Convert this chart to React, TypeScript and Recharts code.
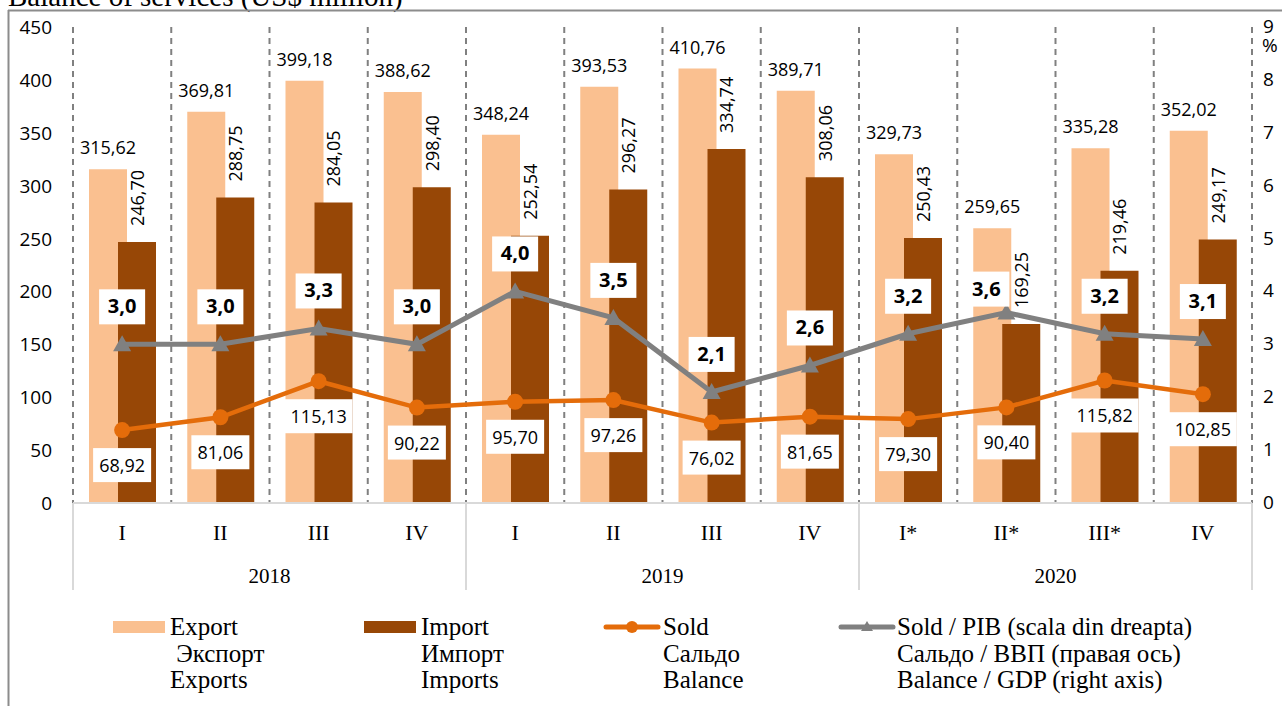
import React from "react";
import {
  ComposedChart,
  Bar,
  Line,
  XAxis,
  YAxis,
  CartesianGrid,
  LabelList,
} from "recharts";

const quarters = ["I", "II", "III", "IV", "I", "II", "III", "IV", "I*", "II*", "III*", "IV"];
const years = ["2018", "2018", "2018", "2018", "2019", "2019", "2019", "2019", "2020", "2020", "2020", "2020"];
const exportsMln = [315.62, 369.81, 399.18, 388.62, 348.24, 393.53, 410.76, 389.71, 329.73, 259.65, 335.28, 352.02];
const importsMln = [246.7, 288.75, 284.05, 298.4, 252.54, 296.27, 334.74, 308.06, 250.43, 169.25, 219.46, 249.17];
const balanceMln = [68.92, 81.06, 115.13, 90.22, 95.7, 97.26, 76.02, 81.65, 79.3, 90.4, 115.82, 102.85];
const balanceGdp = [3.0, 3.0, 3.3, 3.0, 4.0, 3.5, 2.1, 2.6, 3.2, 3.6, 3.2, 3.1];

const leftTicks = [0, 50, 100, 150, 200, 250, 300, 350, 400, 450];
const rightTicks = [0, 1, 2, 3, 4, 5, 6, 7, 8, 9];

const legendItems = [
  { key: "export", lines: ["Export", " Экспорт", "Exports"] },
  { key: "import", lines: ["Import", "Импорт", "Imports"] },
  { key: "balance", lines: ["Sold", "Сальдо", "Balance"] },
  {
    key: "gdp",
    lines: ["Sold / PIB (scala din dreapta)", "Сальдо / ВВП (правая ось)", "Balance / GDP (right axis)"],
  },
];

const data = quarters.map((q, i) => ({
  quarter: q,
  year: years[i],
  exports: exportsMln[i],
  imports: importsMln[i],
  balance: balanceMln[i],
  gdp: balanceGdp[i],
}));

const W = 1282;
const H = 706;
const PLOT_LEFT = 73;
const PLOT_RIGHT = 1252;
const PLOT_TOP = 27;
const PLOT_BOTTOM = 503;
const AXIS_H = 87;
const LEFT_MAX = 450;
const BAND = (PLOT_RIGHT - PLOT_LEFT) / data.length;

const EXPORT_COLOR = "#FAC090";
const IMPORT_COLOR = "#974706";
const BALANCE_COLOR = "#E46C0A";
const GDP_COLOR = "#808080";
const SANS = "'Open Sans', 'Noto Sans', sans-serif";
const SERIF = "'Liberation Serif', serif";

const fmt = (v: number, d: number) => v.toFixed(d).replace(".", ",");

// pixel top of an import bar, used to keep the % labels clear of the rotated import labels
const importTopPx = (i: number) =>
  PLOT_BOTTOM - (importsMln[i] / LEFT_MAX) * (PLOT_BOTTOM - PLOT_TOP);

function QuarterTick({ x, y, payload, index }: any) {
  const left = x - BAND / 2;
  const right = x + BAND / 2;
  return (
    <g>
      <text x={x} y={y + 37} textAnchor="middle" fontFamily={SERIF} fontSize={22} fill="#000">
        {payload.value}
      </text>
      {index % 4 === 1 && (
        <text x={right} y={y + 80} textAnchor="middle" fontFamily={SERIF} fontSize={21} fill="#000">
          {years[index]}
        </text>
      )}
      {index % 4 === 0 && <line x1={left} x2={left} y1={y} y2={y + AXIS_H} stroke="#d9d9d9" strokeWidth={2} />}
      {index === data.length - 1 && (
        <line x1={right} x2={right} y1={y} y2={y + AXIS_H} stroke="#d9d9d9" strokeWidth={2} />
      )}
    </g>
  );
}

function LeftTick({ x, y, payload }: any) {
  return (
    <text x={x} y={y + 7} textAnchor="end" fontFamily={SANS} fontSize={19} fill="#000">
      {payload.value}
    </text>
  );
}

function RightTick({ x, y, payload }: any) {
  return (
    <g>
      <text x={x} y={y + 6} textAnchor="start" fontFamily={SANS} fontSize={19} fill="#000">
        {payload.value}
      </text>
      {payload.value === 9 && (
        <text x={x - 1} y={y + 25} textAnchor="start" fontFamily={SANS} fontSize={19} fill="#000">
          %
        </text>
      )}
    </g>
  );
}

function ExportLabel({ x, y, width, value }: any) {
  return (
    <text x={x + width / 2} y={y - 15} textAnchor="middle" fontFamily={SANS} fontSize={18} fill="#000">
      {fmt(value, 2)}
    </text>
  );
}

function ImportLabel({ x, y, width, value }: any) {
  const cx = x + width / 2 + 7;
  const cy = y - 16;
  return (
    <text
      x={cx}
      y={cy}
      transform={`rotate(-90 ${cx} ${cy})`}
      textAnchor="start"
      fontFamily={SANS}
      fontSize={18}
      fill="#000"
    >
      {fmt(value, 2)}
    </text>
  );
}

function BalanceLabel({ x, y, value }: any) {
  const txt = fmt(value, 2);
  const w = txt.length * 10 + 8;
  const cy = y + 35;
  return (
    <g>
      <rect x={x - w / 2} y={cy - 17} width={w} height={34} fill="#fff" />
      <text x={x} y={cy + 7} textAnchor="middle" fontFamily={SANS} fontSize={18} fill="#000">
        {txt}
      </text>
    </g>
  );
}

function GdpLabel({ x, y, value, index }: any) {
  let cx = x;
  let cy = y - 38;
  // rotated import label occupies roughly [top-72, top-16]; move the box aside if it would cover it
  const impTop = importTopPx(index);
  if (cy + 18 > impTop - 72 && cy - 17 < impTop - 16) {
    cx = x - 20;
    cy = y - 24;
  }
  return (
    <g>
      <rect x={cx - 23} y={cy - 17} width={46} height={35} fill="#fff" />
      <text x={cx} y={cy + 7} textAnchor="middle" fontFamily={SANS} fontWeight="bold" fontSize={20} fill="#000">
        {fmt(value, 1)}
      </text>
    </g>
  );
}

function TriangleDot({ cx, cy }: any) {
  if (cx == null || cy == null) return null;
  return <polygon points={`${cx},${cy - 9} ${cx - 9},${cy + 7} ${cx + 9},${cy + 7}`} fill={GDP_COLOR} />;
}

function LegendMarker({ kind, x, y }: { kind: string; x: number; y: number }) {
  if (kind === "export") return <rect x={x} y={y - 6} width={52} height={12} fill={EXPORT_COLOR} />;
  if (kind === "import") return <rect x={x} y={y - 6} width={52} height={12} fill={IMPORT_COLOR} />;
  if (kind === "balance")
    return (
      <g>
        <line x1={x} x2={x + 52} y1={y} y2={y} stroke={BALANCE_COLOR} strokeWidth={5} strokeLinecap="round" />
        <circle cx={x + 26} cy={y} r={6} fill={BALANCE_COLOR} />
      </g>
    );
  return (
    <g>
      <line x1={x} x2={x + 52} y1={y} y2={y} stroke={GDP_COLOR} strokeWidth={5} strokeLinecap="round" />
      <polygon points={`${x + 26},${y - 6} ${x + 20},${y + 4} ${x + 32},${y + 4}`} fill={GDP_COLOR} />
    </g>
  );
}

const legendX = [113, 364, 606, 841];

export default function App() {
  return (
    <div style={{ position: "absolute", left: 0, top: 0, width: W, height: H, overflow: "hidden", background: "#fff" }}>
      <ComposedChart
        width={W}
        height={H}
        data={data}
        margin={{ top: PLOT_TOP, right: 0, left: 0, bottom: H - PLOT_BOTTOM - AXIS_H }}
        barSize={38}
        barGap={-9}
      >
        <CartesianGrid
          horizontal={false}
          stroke="#808080"
          strokeWidth={2}
          strokeDasharray="6 5"
          verticalCoordinatesGenerator={({ offset }: any) =>
            Array.from({ length: data.length + 1 }, (_, i) => offset.left + (i * offset.width) / data.length)
          }
        />
        <XAxis
          dataKey="quarter"
          height={AXIS_H}
          interval={0}
          tickLine={false}
          tickSize={0}
          tickMargin={0}
          axisLine={{ stroke: "#d9d9d9", strokeWidth: 2 }}
          tick={<QuarterTick />}
        />
        <YAxis
          yAxisId="left"
          domain={[0, LEFT_MAX]}
          ticks={leftTicks}
          width={PLOT_LEFT}
          axisLine={false}
          tickLine={false}
          tickSize={0}
          tickMargin={21}
          tick={<LeftTick />}
        />
        <YAxis
          yAxisId="right"
          orientation="right"
          domain={[0, 9]}
          ticks={rightTicks}
          width={W - PLOT_RIGHT}
          axisLine={false}
          tickLine={false}
          tickSize={0}
          tickMargin={11}
          tick={<RightTick />}
        />
        <Bar yAxisId="left" dataKey="exports" fill={EXPORT_COLOR} isAnimationActive={false}>
          <LabelList dataKey="exports" content={<ExportLabel />} />
        </Bar>
        <Bar yAxisId="left" dataKey="imports" fill={IMPORT_COLOR} isAnimationActive={false}>
          <LabelList dataKey="imports" content={<ImportLabel />} />
        </Bar>
        <Line
          yAxisId="left"
          dataKey="balance"
          stroke={BALANCE_COLOR}
          strokeWidth={4.5}
          dot={{ r: 8, fill: BALANCE_COLOR, stroke: "none" }}
          activeDot={false}
          isAnimationActive={false}
        >
          <LabelList dataKey="balance" content={<BalanceLabel />} />
        </Line>
        <Line
          yAxisId="right"
          dataKey="gdp"
          stroke={GDP_COLOR}
          strokeWidth={5}
          dot={<TriangleDot />}
          activeDot={false}
          isAnimationActive={false}
        >
          <LabelList dataKey="gdp" content={<GdpLabel />} />
        </Line>
      </ComposedChart>

      <svg
        width={W}
        height={H}
        style={{ position: "absolute", left: 0, top: 0, pointerEvents: "none" }}
      >
        <text x={8} y={6} fontFamily={SERIF} fontSize={29} fill="#000">
          Balance of services (US$ million)
        </text>
        <line x1={8.5} x2={8.5} y1={10} y2={H} stroke="#8c8c8c" strokeWidth={2} />
        <line x1={8} x2={W} y1={10.5} y2={10.5} stroke="#8c8c8c" strokeWidth={2} />
        {legendItems.map((item, i) => (
          <g key={item.key}>
            <LegendMarker kind={item.key} x={legendX[i]} y={627} />
            {item.lines.map((ln, j) => (
              <text
                key={j}
                x={legendX[i] + (i === 3 ? 56 : 57)}
                y={635 + j * 26.5}
                fontFamily={SERIF}
                fontSize={25}
                fill="#000"
                style={{ whiteSpace: "pre" }}
              >
                {ln}
              </text>
            ))}
          </g>
        ))}
      </svg>
    </div>
  );
}
